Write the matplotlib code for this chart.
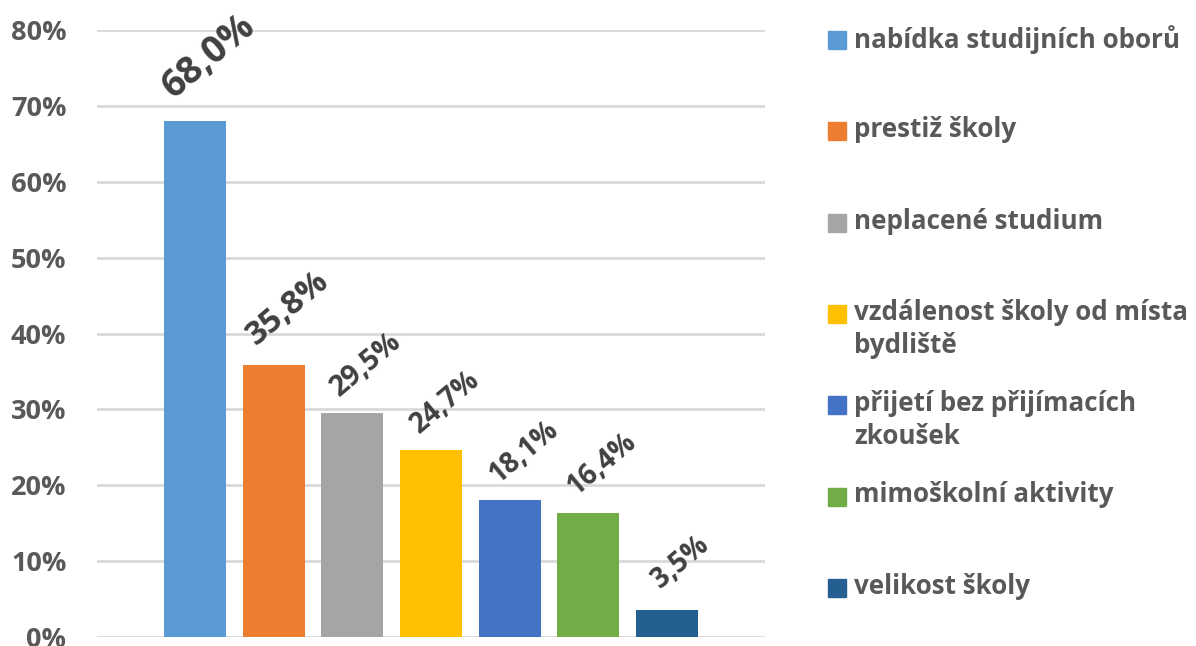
import matplotlib.pyplot as plt
from matplotlib.patches import Rectangle

plt.rcParams['font.family'] = ['Open Sans', 'DejaVu Sans']

# data
categories = ["nabídka studijních oborů", "prestiž školy", "neplacené studium",
              "vzdálenost školy od místa\nbydliště", "přijetí bez přijímacích\nzkoušek",
              "mimoškolní aktivity", "velikost školy"]
values = [68.0, 35.8, 29.5, 24.7, 18.1, 16.4, 3.5]
labels = ["68,0%", "35,8%", "29,5%", "24,7%", "18,1%", "16,4%", "3,5%"]
colors = ["#5B9BD5", "#ED7D31", "#A5A5A5", "#FFC000", "#4472C4", "#70AD47", "#255E91"]
yticks = [0, 10, 20, 30, 40, 50, 60, 70, 80]
ytick_labels = ["0%", "10%", "20%", "30%", "40%", "50%", "60%", "70%", "80%"]

# velikost popisků dat (v referenci nejsou stejně velké)
label_sizes = [27, 24, 20.5, 20, 20, 20, 20]

fig = plt.figure(figsize=(11.96, 6.46), dpi=100)
ax = fig.add_axes([0.0811, 0.0139, 0.5585, 0.9396])

x = list(range(len(values)))
ax.bar(x, values, width=0.79, color=colors, zorder=3)

ax.set_xlim(-1.245, 7.245)
ax.set_ylim(0, 80)
ax.set_yticks(yticks)
ax.set_yticklabels(ytick_labels, fontsize=19.5, fontweight='bold', color='#595959')
ax.set_xticks([])
ax.tick_params(axis='y', length=0, pad=22)
ax.grid(axis='y', color='#d9d9d9', linewidth=2, zorder=0)
for s in ax.spines.values():
    s.set_visible(False)

for i, (v, lab) in enumerate(zip(values, labels)):
    fs = label_sizes[i]
    ax.annotate(lab, (i, v), xytext=(10, fs * 1.72),
                textcoords='offset points', ha='center', va='center',
                rotation=40, rotation_mode='anchor',
                fontsize=fs, fontweight='bold', color='#404040')

# legenda
for i, (cat, c) in enumerate(zip(categories, colors)):
    yc = 1 - (40 + 91.3 * i) / 646
    fig.patches.append(Rectangle((828 / 1196, yc - 9 / 646), 18 / 1196, 18 / 646,
                                 transform=fig.transFigure, color=c))
    fig.text(854 / 1196, yc + 15 / 646, cat, ha='left', va='top', fontsize=18.7,
             fontweight='bold', color='#595959', linespacing=1.3)

fig.savefig("out.png", dpi=100)
